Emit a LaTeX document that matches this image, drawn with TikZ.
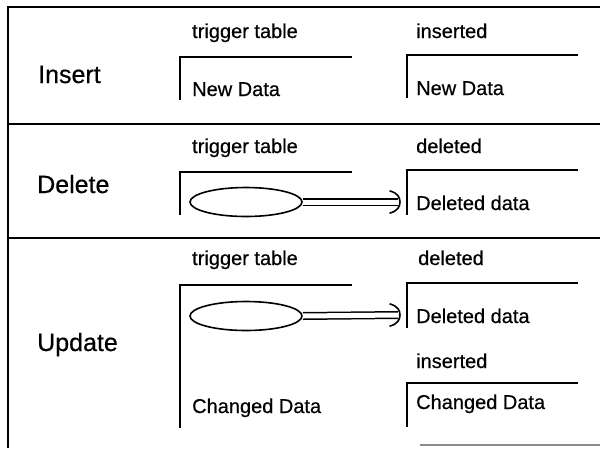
\documentclass[tikz,border=0pt]{standalone}
\usepackage{fontspec}
\setmainfont{Liberation Sans}[FakeBold=0.5]
\usetikzlibrary{shapes.geometric,calc}
\begin{document}
\begin{tikzpicture}[x=1pt,y=-1pt,
  small/.style={anchor=base west,inner sep=0pt,font=\fontsize{20}{24}\selectfont},
  big/.style={anchor=base west,inner sep=0pt,font=\fontsize{25}{30}\selectfont},
  frameline/.style={line width=2.2pt},
  bracket/.style={line width=1.8pt},
  blob/.style={ellipse,draw,line width=1.6pt,minimum width=112pt,minimum height=29pt,inner sep=0pt},
  flow/.style={double,double distance=5pt,line width=1.5pt},
  headline/.style={line width=1.6pt,line cap=round}
]
\useasboundingbox (0,0) rectangle (600,448);

% frame and row dividers
\draw[frameline] (600,7) -- (8,7) -- (8,448);
\draw[frameline] (8,124) -- (600,124);
\draw[frameline] (8,238) -- (600,238);
\draw[line width=1.5pt,black!45] (420,445) -- (600,445);

% Insert row
\node[big] (ins) at (38,83) {Insert};
\node[small] (tt1) at (192,38) {trigger table};
\node[small] (insd1) at (416,38) {inserted};
\draw[bracket] (180,100) -- (180,57) -- (352,57);
\draw[bracket] (407,98) -- (407,55) -- (578,55);
\node[small] (nd1) at (192,96) {New Data};
\node[small] (nd2) at (416,95) {New Data};

% Delete row
\node[big] (del) at (37,193) {Delete};
\node[small] (tt2) at (192,153) {trigger table};
\node[small] (deld2) at (416,153) {deleted};
\draw[bracket] (180,215) -- (180,172) -- (352,172);
\draw[bracket] (407,215) -- (407,170) -- (578,170);
\node[blob] (e1) at (246,202) {};
\coordinate (t1) at (400,202);
\draw[flow] (e1.east) -- ($(t1)+(-2,0)$);
\draw[headline] ($(t1)+(-10,-11)$) .. controls ($(t1)+(-2,-9)$) and ($(t1)+(0,-4)$) .. (t1)
   .. controls ($(t1)+(0,4)$) and ($(t1)+(-2,9)$) .. ($(t1)+(-10,11)$);
\node[small] (dd1) at (416,210) {Deleted data};

% Update row
\node[big] (upd) at (37,351) {Update};
\node[small] (tt3) at (192,265) {trigger table};
\node[small] (deld3) at (418,265) {deleted};
\draw[bracket] (180,428) -- (180,285) -- (352,285);
\draw[bracket] (407,328) -- (407,283) -- (578,283);
\node[blob] (e2) at (246,316) {};
\coordinate (t2) at (400,315);
\draw[flow] (e2.east) -- ($(t2)+(-2,0)$);
\draw[headline] ($(t2)+(-10,-11)$) .. controls ($(t2)+(-2,-9)$) and ($(t2)+(0,-4)$) .. (t2)
   .. controls ($(t2)+(0,4)$) and ($(t2)+(-2,9)$) .. ($(t2)+(-10,11)$);
\node[small] (dd2) at (416,323) {Deleted data};
\node[small] (insd3) at (416,368) {inserted};
\draw[bracket] (407,427) -- (407,383) -- (578,383);
\node[small] (cd2) at (416,409) {Changed Data};
\node[small] (cd1) at (192,413) {Changed Data};
\end{tikzpicture}
\end{document}
